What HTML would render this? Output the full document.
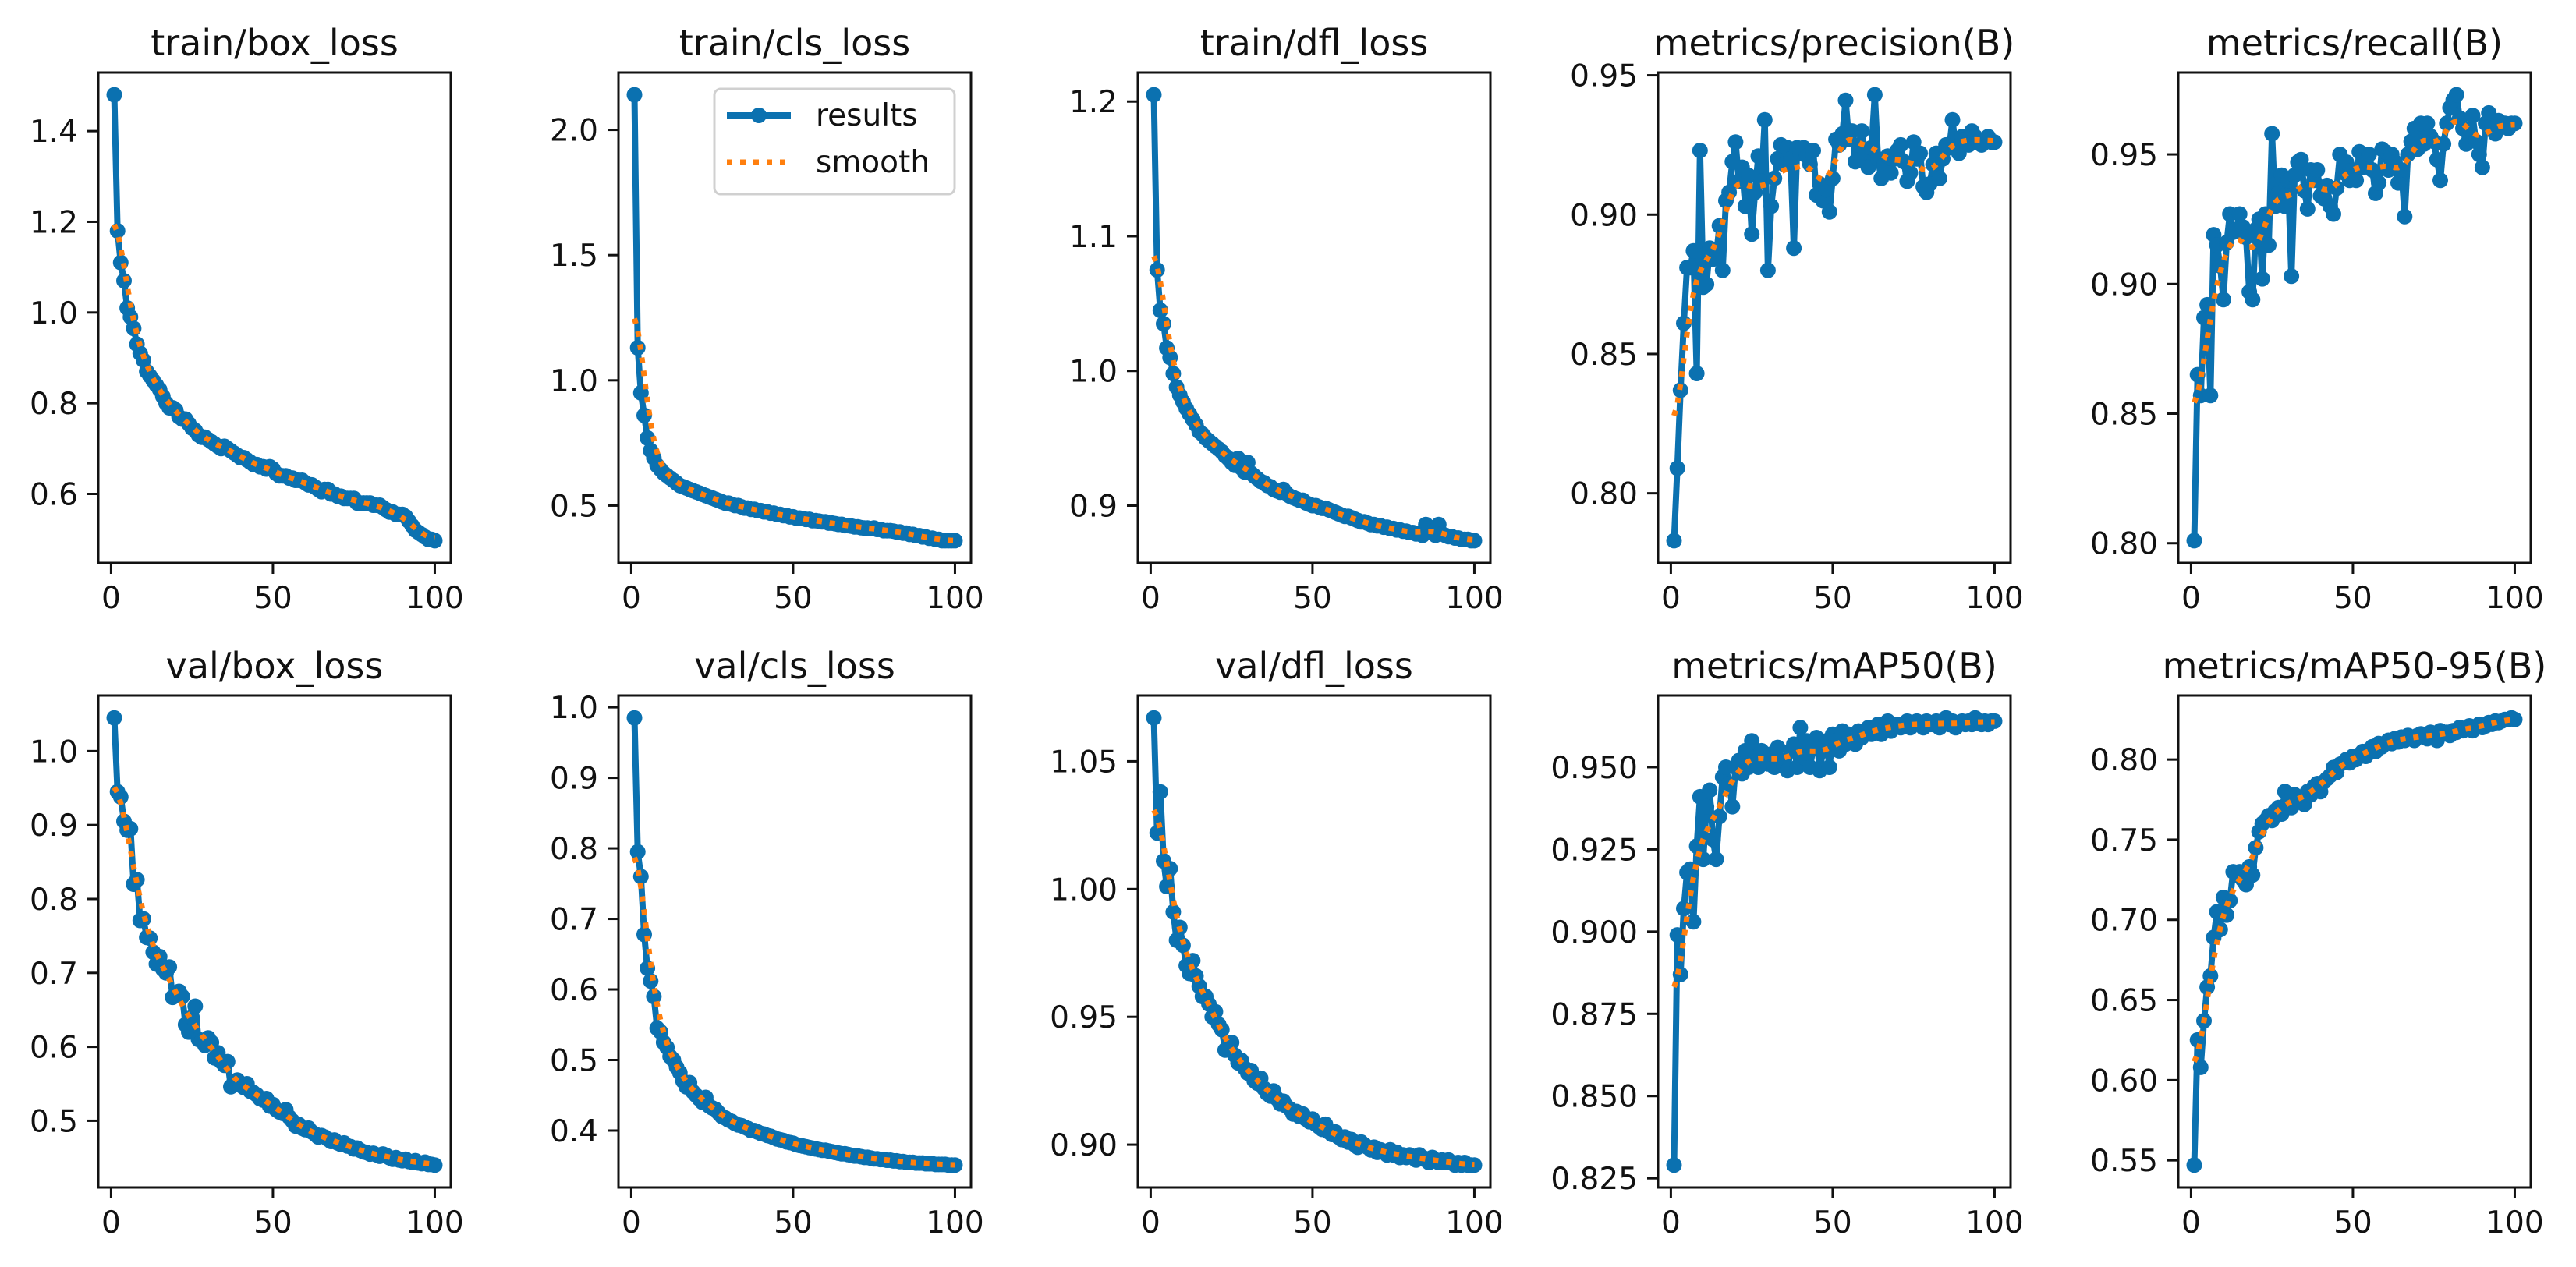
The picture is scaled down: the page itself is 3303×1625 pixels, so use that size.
<!DOCTYPE html>
<html><head><meta charset="utf-8"><style>
html,body{margin:0;padding:0;background:#fff}
svg{display:block}
text{font-family:"DejaVu Sans","Liberation Sans",sans-serif;fill:#111}
</style></head><body>
<svg id="fig" width="3303" height="1625" viewBox="0 0 3303 1625" xmlns="http://www.w3.org/2000/svg"></svg>
<script>
const titles = ["train/box_loss","train/cls_loss","train/dfl_loss","metrics/precision(B)","metrics/recall(B)","val/box_loss","val/cls_loss","val/dfl_loss","metrics/mAP50(B)","metrics/mAP50-95(B)"];
const xTicks = [0,50,100];
const yTicks0 = ["0.6","0.8","1.0","1.2","1.4"];
const yTicks1 = ["0.5","1.0","1.5","2.0"];
const yTicks2 = ["0.9","1.0","1.1","1.2"];
const yTicks3 = ["0.80","0.85","0.90","0.95"];
const yTicks4 = ["0.80","0.85","0.90","0.95"];
const yTicks5 = ["0.5","0.6","0.7","0.8","0.9","1.0"];
const yTicks6 = ["0.4","0.5","0.6","0.7","0.8","0.9","1.0"];
const yTicks7 = ["0.90","0.95","1.00","1.05"];
const yTicks8 = ["0.825","0.850","0.875","0.900","0.925","0.950"];
const yTicks9 = ["0.55","0.60","0.65","0.70","0.75","0.80"];

const trainBox = [1.48,1.18,1.11,1.07,1.01,0.99,0.965,0.93,0.91,0.895,
0.87,0.86,0.85,0.84,0.83,0.815,0.80,0.79,0.79,0.785,
0.77,0.765,0.765,0.755,0.745,0.74,0.73,0.725,0.725,0.72,
0.715,0.71,0.705,0.70,0.705,0.70,0.695,0.69,0.685,0.68,
0.68,0.675,0.67,0.665,0.665,0.66,0.66,0.655,0.66,0.655,
0.645,0.64,0.64,0.64,0.635,0.635,0.63,0.63,0.63,0.625,
0.62,0.62,0.615,0.61,0.605,0.61,0.61,0.60,0.60,0.595,
0.595,0.59,0.59,0.59,0.59,0.58,0.58,0.58,0.58,0.58,
0.575,0.575,0.575,0.57,0.565,0.56,0.56,0.555,0.555,0.555,
0.55,0.54,0.53,0.52,0.515,0.51,0.505,0.50,0.50,0.497];
const trainCls = [2.14,1.13,0.95,0.86,0.77,0.72,0.69,0.66,0.645,0.63,
0.62,0.61,0.60,0.59,0.58,0.575,0.57,0.565,0.56,0.555,
0.55,0.545,0.54,0.535,0.53,0.525,0.52,0.515,0.51,0.51,
0.505,0.50,0.50,0.495,0.49,0.49,0.485,0.485,0.48,0.48,
0.475,0.475,0.47,0.47,0.465,0.465,0.46,0.46,0.455,0.455,
0.45,0.45,0.448,0.445,0.445,0.44,0.44,0.438,0.435,0.435,
0.43,0.43,0.428,0.425,0.425,0.42,0.42,0.418,0.415,0.415,
0.412,0.41,0.41,0.408,0.41,0.405,0.405,0.40,0.40,0.40,
0.398,0.395,0.395,0.39,0.39,0.385,0.385,0.38,0.38,0.375,
0.375,0.37,0.37,0.365,0.365,0.36,0.36,0.36,0.36,0.36];
const trainDfl = [1.205,1.075,1.045,1.035,1.017,1.01,0.998,0.988,0.982,0.977,
0.972,0.968,0.964,0.96,0.955,0.953,0.95,0.948,0.946,0.944,
0.942,0.94,0.937,0.935,0.932,0.93,0.935,0.928,0.925,0.932,
0.924,0.922,0.92,0.918,0.917,0.915,0.914,0.912,0.911,0.91,
0.912,0.909,0.907,0.906,0.905,0.904,0.904,0.902,0.901,0.90,
0.9,0.899,0.898,0.898,0.897,0.896,0.895,0.894,0.893,0.892,
0.892,0.891,0.89,0.889,0.888,0.888,0.887,0.886,0.886,0.885,
0.885,0.884,0.884,0.883,0.883,0.882,0.882,0.881,0.881,0.88,
0.88,0.879,0.879,0.878,0.886,0.883,0.88,0.878,0.886,0.879,
0.878,0.877,0.877,0.876,0.876,0.875,0.875,0.875,0.874,0.874];
const precision = [0.783,0.809,0.837,0.861,0.881,0.881,0.887,0.843,0.923,0.874,
0.875,0.888,0.884,0.885,0.896,0.880,0.905,0.908,0.919,0.926,
0.912,0.917,0.903,0.914,0.893,0.908,0.921,0.912,0.934,0.880,
0.903,0.913,0.920,0.925,0.918,0.924,0.920,0.888,0.924,0.922,
0.924,0.921,0.918,0.923,0.907,0.911,0.905,0.909,0.901,0.913,
0.927,0.925,0.929,0.941,0.927,0.930,0.919,0.925,0.930,0.922,
0.917,0.924,0.943,0.920,0.913,0.918,0.921,0.915,0.920,0.923,
0.925,0.919,0.912,0.915,0.926,0.920,0.922,0.910,0.908,0.911,
0.918,0.922,0.913,0.920,0.925,0.924,0.934,0.924,0.922,0.928,
0.927,0.925,0.930,0.928,0.926,0.925,0.927,0.928,0.926,0.926];
const recall = [0.801,0.865,0.857,0.887,0.892,0.857,0.919,0.915,0.907,0.894,
0.916,0.927,0.920,0.921,0.927,0.922,0.918,0.897,0.894,0.921,
0.925,0.902,0.927,0.915,0.958,0.930,0.935,0.942,0.930,0.940,
0.903,0.942,0.947,0.948,0.936,0.929,0.944,0.940,0.944,0.934,
0.933,0.938,0.930,0.927,0.937,0.950,0.943,0.947,0.940,0.944,
0.940,0.951,0.945,0.948,0.950,0.944,0.935,0.939,0.952,0.951,
0.944,0.950,0.947,0.939,0.944,0.926,0.950,0.955,0.960,0.952,
0.962,0.954,0.962,0.957,0.955,0.948,0.940,0.954,0.962,0.968,
0.971,0.973,0.964,0.960,0.954,0.960,0.965,0.955,0.950,0.945,
0.962,0.966,0.961,0.958,0.963,0.961,0.962,0.960,0.962,0.962];
const valBox = [1.045,0.945,0.938,0.905,0.893,0.895,0.820,0.826,0.771,0.773,
0.748,0.747,0.728,0.712,0.722,0.705,0.700,0.708,0.667,0.670,
0.675,0.668,0.630,0.620,0.640,0.655,0.610,0.608,0.602,0.612,
0.606,0.585,0.592,0.580,0.575,0.580,0.546,0.552,0.555,0.548,
0.545,0.550,0.540,0.538,0.535,0.530,0.528,0.530,0.520,0.522,
0.515,0.512,0.510,0.515,0.505,0.500,0.493,0.495,0.490,0.488,
0.490,0.485,0.482,0.478,0.480,0.478,0.475,0.472,0.474,0.470,
0.468,0.470,0.466,0.465,0.462,0.463,0.460,0.458,0.457,0.455,
0.456,0.454,0.452,0.455,0.453,0.450,0.448,0.450,0.447,0.446,
0.448,0.445,0.444,0.446,0.443,0.442,0.444,0.441,0.441,0.440];
const valCls = [0.985,0.795,0.760,0.678,0.630,0.612,0.590,0.545,0.540,0.525,
0.518,0.505,0.500,0.490,0.482,0.470,0.462,0.468,0.455,0.450,
0.445,0.440,0.447,0.435,0.432,0.430,0.425,0.420,0.418,0.415,
0.413,0.410,0.408,0.407,0.405,0.403,0.400,0.400,0.398,0.396,
0.395,0.393,0.392,0.390,0.388,0.387,0.386,0.384,0.383,0.382,
0.380,0.379,0.378,0.377,0.376,0.375,0.374,0.373,0.372,0.372,
0.371,0.370,0.369,0.368,0.367,0.367,0.366,0.365,0.364,0.364,
0.363,0.362,0.362,0.361,0.360,0.360,0.359,0.359,0.358,0.358,
0.357,0.357,0.356,0.356,0.355,0.355,0.355,0.354,0.354,0.354,
0.353,0.353,0.353,0.352,0.352,0.352,0.352,0.351,0.351,0.351];
const valDfl = [1.067,1.022,1.038,1.011,1.001,1.008,0.991,0.980,0.985,0.978,
0.970,0.967,0.972,0.966,0.962,0.958,0.958,0.955,0.950,0.952,
0.947,0.945,0.937,0.938,0.940,0.935,0.932,0.933,0.930,0.928,
0.929,0.925,0.924,0.926,0.922,0.920,0.919,0.921,0.918,0.916,
0.917,0.915,0.914,0.912,0.913,0.911,0.912,0.910,0.909,0.910,
0.908,0.907,0.906,0.908,0.905,0.904,0.905,0.903,0.902,0.903,
0.901,0.902,0.900,0.899,0.901,0.900,0.899,0.898,0.899,0.897,
0.898,0.897,0.896,0.898,0.896,0.897,0.895,0.896,0.895,0.896,
0.895,0.894,0.896,0.895,0.894,0.893,0.895,0.894,0.893,0.894,
0.893,0.894,0.893,0.892,0.893,0.892,0.893,0.892,0.892,0.892];
const map50 = [0.829,0.899,0.887,0.907,0.918,0.919,0.903,0.926,0.941,0.922,
0.938,0.943,0.928,0.922,0.935,0.947,0.950,0.945,0.938,0.950,
0.952,0.948,0.955,0.950,0.958,0.953,0.950,0.955,0.952,0.951,
0.954,0.950,0.956,0.952,0.951,0.949,0.955,0.957,0.950,0.962,
0.953,0.958,0.950,0.956,0.959,0.949,0.955,0.958,0.950,0.960,
0.958,0.955,0.961,0.957,0.960,0.958,0.957,0.961,0.959,0.960,
0.962,0.960,0.961,0.963,0.960,0.962,0.964,0.961,0.962,0.963,
0.962,0.963,0.964,0.962,0.963,0.964,0.963,0.962,0.964,0.963,
0.963,0.964,0.962,0.963,0.965,0.963,0.964,0.962,0.963,0.964,
0.963,0.964,0.963,0.965,0.964,0.963,0.964,0.963,0.964,0.964];
const map5095 = [0.547,0.625,0.608,0.637,0.658,0.665,0.689,0.705,0.694,0.714,
0.703,0.712,0.730,0.728,0.730,0.725,0.722,0.733,0.728,0.745,
0.755,0.760,0.762,0.765,0.762,0.768,0.770,0.766,0.780,0.774,
0.770,0.778,0.775,0.776,0.772,0.780,0.778,0.783,0.785,0.780,
0.786,0.788,0.790,0.795,0.792,0.797,0.798,0.800,0.798,0.802,
0.800,0.803,0.805,0.802,0.806,0.808,0.805,0.810,0.808,0.810,
0.812,0.810,0.813,0.811,0.814,0.812,0.815,0.813,0.812,0.815,
0.816,0.814,0.813,0.817,0.815,0.812,0.818,0.816,0.817,0.815,
0.818,0.817,0.820,0.818,0.819,0.821,0.818,0.820,0.822,0.820,
0.821,0.823,0.822,0.824,0.823,0.824,0.825,0.825,0.826,0.825];

const series = [trainBox,trainCls,trainDfl,precision,recall,valBox,valCls,valDfl,map50,map5095];
const yTickSets = [yTicks0,yTicks1,yTicks2,yTicks3,yTicks4,yTicks5,yTicks6,yTicks7,yTicks8,yTicks9];

const NS = "http://www.w3.org/2000/svg";
const svg = document.getElementById('fig');
const colLeft = [126,793,1459,2126,2793];
const rowTop = [93,892];
const W = 452, H = [629,631];
const BLUE = "#0b71b0", ORANGE = "#ff7f0e";

function mk(tag, attrs, parent){
  const e = document.createElementNS(NS, tag);
  for (const k in attrs) e.setAttribute(k, attrs[k]);
  (parent||svg).appendChild(e);
  return e;
}
function gaussSmooth(y, sigma){
  const r = Math.round(4*sigma), n = y.length, w = [];
  let s = 0;
  for (let k=-r;k<=r;k++){ const v=Math.exp(-k*k/(2*sigma*sigma)); w.push(v); s+=v; }
  const out = [];
  for (let i=0;i<n;i++){
    let acc=0;
    for (let k=-r;k<=r;k++){
      let j=i+k;
      while (j<0||j>=n){ if(j<0) j=-j-1; if(j>=n) j=2*n-j-1; }
      acc += w[k+r]*y[j];
    }
    out.push(acc/s);
  }
  return out;
}

series.forEach((ys, idx) => {
  const r = Math.floor(idx/5), c = idx%5;
  const L = colLeft[c], T = rowTop[r], h = H[r], B = T + h;
  const g = mk('g', {});
  
  
  const xs = ys.map((_,i)=>i+1);
  const xmin=1, xmax=100, xm=(xmax-xmin)*0.05;
  const x0=xmin-xm, x1=xmax+xm;
  const sm = gaussSmooth(ys, 3);
  const ymn=Math.min(...ys), ymx=Math.max(...ys), ymg=(ymx-ymn)*0.05;
  const y0=ymn-ymg, y1=ymx+ymg;
  const X = v => L + (v-x0)/(x1-x0)*W;
  const Y = v => B - (v-y0)/(y1-y0)*h;

  const t = mk('text', {x: L+W/2, y: T-22, 'text-anchor':'middle', 'font-size':46}, g);
  t.textContent = titles[idx];
  
  

  const cp = mk('clipPath', {id:'cp'+idx}, g);
  mk('rect', {x:L, y:T, width:W, height:h}, cp);

  const pts = xs.map((x,i)=>X(x).toFixed(1)+','+Y(ys[i]).toFixed(1)).join(' ');
  const pl = mk('polyline', {points:pts, fill:'none', stroke:BLUE, 'stroke-width':8, 'stroke-linejoin':'round', 'clip-path':'url(#cp'+idx+')'}, g);
  
  
  const mg = mk('g', {fill:BLUE, 'clip-path':'url(#cp'+idx+')'}, g);
  
  
  xs.forEach((x,i)=>{ mk('circle', {cx:X(x).toFixed(1), cy:Y(ys[i]).toFixed(1), r:10}, mg); });

  const spts = xs.map((x,i)=>X(x).toFixed(1)+','+Y(sm[i]).toFixed(1)).join(' ');
  const sl = mk('polyline', {points:spts, fill:'none', stroke:ORANGE, 'stroke-width':7, 'stroke-dasharray':'7 10', 'clip-path':'url(#cp'+idx+')'}, g);
  
  

  const fr = mk('rect', {x:L, y:T, width:W, height:h, fill:'none', stroke:'#111', 'stroke-width':3}, g);
  
  

  xTicks.forEach(v=>{
    const px = X(v);
    mk('line', {x1:px, y1:B, x2:px, y2:B+14, stroke:'#111', 'stroke-width':3}, g);
    const tl = mk('text', {x:px, y:B+58, 'text-anchor':'middle', 'font-size':39}, g);
    tl.textContent = v;
    
    
  });
  yTickSets[idx].forEach(s=>{
    const v = parseFloat(s), py = Y(v);
    if (py < T-1 || py > B+1) return;
    mk('line', {x1:L-14, y1:py, x2:L, y2:py, stroke:'#111', 'stroke-width':3}, g);
    const tl = mk('text', {x:L-26, y:py+14, 'text-anchor':'end', 'font-size':39}, g);
    tl.textContent = s;
    
    
  });

  if (idx === 1) {
    const lg = mk('g', {}, g);
    
    
    mk('rect', {x:916, y:114, width:308, height:135, rx:8, fill:'#fff', 'fill-opacity':0.85, stroke:'#d0d0d0', 'stroke-width':3}, lg);
    mk('line', {x1:932, y1:148, x2:1014, y2:148, stroke:BLUE, 'stroke-width':8}, lg);
    mk('circle', {cx:973, cy:148, r:10, fill:BLUE}, lg);
    const l1 = mk('text', {x:1046, y:161, 'font-size':39}, lg);
    l1.textContent = 'results';
    
    
    mk('line', {x1:932, y1:208, x2:1014, y2:208, stroke:ORANGE, 'stroke-width':7, 'stroke-dasharray':'7 10'}, lg);
    const l2 = mk('text', {x:1046, y:221, 'font-size':39}, lg);
    l2.textContent = 'smooth';
    
    
  }
});
</script>
</body></html>
